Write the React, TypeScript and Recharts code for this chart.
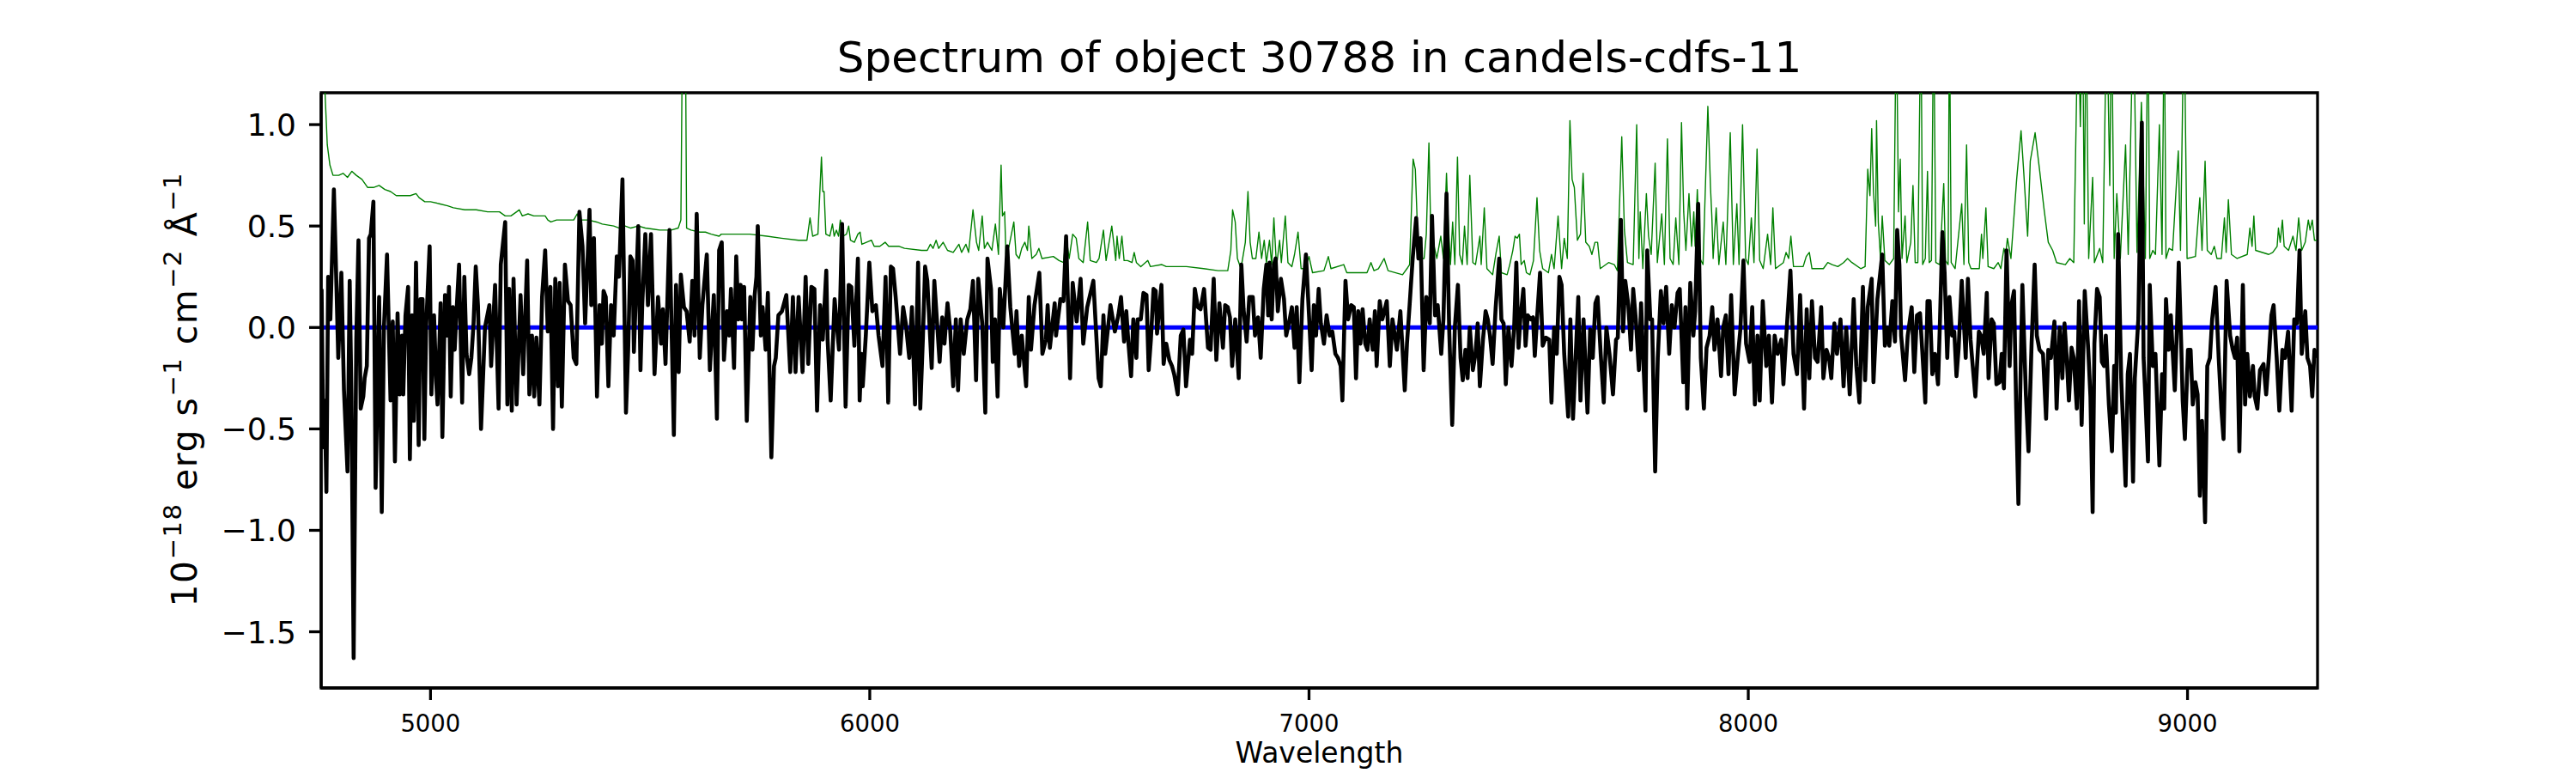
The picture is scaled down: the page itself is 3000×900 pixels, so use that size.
import React from 'react';
import { LineChart, Line, XAxis, YAxis, ReferenceArea } from 'recharts';

const FONT = '"DejaVu Sans", Verdana, sans-serif';

const title = 'Spectrum of object 30788 in candels-cdfs-11';
const xLabel = 'Wavelength';
const xDomain: [number, number] = [4751, 9296];
const yDomain: [number, number] = [-1.777, 1.157];
const xTicks = [5000, 6000, 7000, 8000, 9000];
const yTicks = [-1.5, -1.0, -0.5, 0.0, 0.5, 1.0];

// Observed flux (black), [wavelength, flux]
const black4750 = [[4752,0.19],[4756,-0.59],[4759,-0.36],[4763,-0.81],[4767,0.25],[4772,0.04],[4780,0.68],[4784,0.36],[4790,-0.15],[4797,0.27],[4803,-0.31],[4811,-0.71],[4816,0.23],[4820,-0.34],[4825,-1.63],[4831,-0.06],[4836,0.43],[4841,-0.40],[4847,-0.34],[4850,-0.25],[4855,-0.19],[4860,0.44],[4864,0.46],[4870,0.62],[4875,-0.79],[4883,0.15],[4889,-0.91],[4894,0.00],[4901,0.36],[4909,-0.36],[4914,0.03],[4919,-0.66],[4925,0.07],[4930,-0.33],[4935,-0.04],[4938,-0.33],[4943,0.06],[4949,0.20],[4953,-0.65],[4958,0.06],[4962,-0.46],[4967,0.32],[4973,-0.58],[4977,0.14],[4982,0.14],[4986,-0.55],[4990,0.00],[4998,0.40],[5002,-0.33],[5008,0.06],[5013,-0.27],[5016,-0.38],[5023,0.12],[5027,-0.54],[5033,0.16],[5038,-0.04],[5042,0.20],[5046,-0.34],[5051,0.10],[5055,-0.11],[5060,0.11],[5065,0.31],[5072,-0.37],[5077,0.25],[5082,-0.13],[5088,-0.23],[5093,-0.15],[5098,0.02],[5103,0.30],[5108,0.11],[5115,-0.50],[5124,0.00],[5134,0.11],[5138,-0.19],[5147,0.21],[5155,-0.40],[5160,0.31],[5170,0.52],[5175,-0.38],[5179,0.19],[5185,-0.41],[5189,0.24],[5196,-0.38],[5205,0.16],[5211,-0.23],[5220,0.33],[5225,-0.33],[5231,-0.04],[5236,-0.34],[5241,-0.05],[5248,-0.38],[5254,0.15],[5261,0.38],[5267,-0.02],[5273,0.20],[5279,-0.50],[5284,0.24],[5290,-0.29],[5294,0.22],[5299,-0.39],[5306,0.31],[5313,0.13],[5319,0.11],[5326,-0.15],[5332,-0.18],[5339,0.57],[5346,0.40],[5352,0.02],[5362,0.58],[5366,0.11],[5372,0.44],[5379,-0.34],[5385,0.11],[5390,-0.08],[5394,0.18],[5399,0.15],[5405,-0.29],[5411,0.11],[5417,-0.04],[5424,0.35],[5429,0.25],[5437,0.73],[5445,-0.42],[5450,-0.11],[5455,0.35],[5460,0.33],[5463,-0.12],[5473,0.50],[5478,-0.21],[5482,0.11],[5489,0.46],[5495,0.11],[5502,0.46],[5510,-0.23],[5518,0.15],[5525,-0.08],[5529,0.09],[5535,-0.18],[5544,0.48],[5554,-0.53],[5559,0.21],[5565,-0.22],[5570,0.26],[5577,0.10],[5583,0.08],[5590,-0.07],[5596,0.23],[5601,-0.04],[5606,0.56],[5613,-0.15],[5619,0.11],[5629,0.36],[5636,-0.21],[5645,0.16],[5652,-0.45],[5657,0.38]];
const black5660 = [[5663,0.42],[5668,-0.16],[5675,0.08],[5680,-0.04],[5684,0.19],[5691,-0.20],[5696,0.35],[5701,0.04],[5706,0.21],[5709,0.04],[5714,0.20],[5720,-0.46],[5728,0.15],[5733,-0.11],[5738,0.16],[5742,0.25],[5745,0.50],[5752,-0.04],[5756,0.10],[5763,-0.11],[5768,0.17],[5776,-0.64],[5782,-0.19],[5786,-0.15],[5792,0.06],[5800,0.08],[5810,0.16],[5819,-0.22],[5825,0.15],[5831,-0.22],[5838,0.15],[5847,-0.22],[5854,0.25],[5860,-0.18],[5867,0.20],[5874,0.19],[5880,-0.41],[5887,0.11],[5893,-0.06],[5901,0.28],[5904,-0.06],[5911,-0.36],[5920,0.14],[5930,-0.11],[5937,0.51],[5945,-0.39],[5952,0.21],[5958,0.20],[5965,-0.09],[5973,0.34],[5977,-0.36],[5981,-0.13],[5984,-0.29],[5991,-0.04],[5999,0.32],[6006,0.08],[6014,0.11],[6020,-0.04],[6029,-0.19],[6036,0.25],[6042,-0.37],[6048,0.30],[6053,0.29],[6059,0.15],[6069,-0.13],[6076,0.10],[6082,0.02],[6090,-0.15],[6096,0.10],[6103,-0.38],[6110,0.32],[6115,-0.40],[6121,-0.05],[6126,0.30],[6131,0.23],[6141,-0.20],[6147,0.23],[6159,-0.17],[6165,0.05],[6170,-0.08],[6177,0.12],[6183,-0.01],[6190,-0.29],[6196,0.04],[6201,-0.31],[6207,0.04],[6214,-0.13],[6222,0.04],[6229,0.09],[6235,0.23],[6242,-0.26],[6247,0.24],[6256,0.02],[6263,-0.42],[6268,0.34],[6276,0.19],[6280,-0.17],[6285,0.04],[6291,-0.34],[6296,0.19],[6304,0.00],[6313,0.40],[6320,0.10],[6330,-0.13],[6334,0.08],[6340,-0.19],[6346,-0.04],[6356,-0.29],[6362,0.15],[6367,-0.11],[6375,0.11],[6386,0.27],[6393,-0.13],[6401,-0.06],[6405,0.11],[6410,-0.10],[6421,0.12],[6424,-0.04],[6434,0.14],[6441,0.13],[6447,0.45],[6456,-0.25],[6462,0.22],[6471,0.03],[6480,0.24],[6486,-0.08],[6495,0.10],[6509,0.23],[6521,-0.25],[6526,-0.29],[6532,0.06],[6536,-0.13],[6548,0.11],[6558,-0.02],[6566,0.06]];
const black6570 = [[6572,0.15],[6579,-0.07],[6584,0.08],[6589,-0.08],[6595,-0.24],[6600,0.04],[6607,-0.15],[6610,0.04],[6617,0.04],[6623,0.17],[6630,0.16],[6635,-0.21],[6640,-0.06],[6646,0.19],[6651,0.18],[6654,-0.03],[6664,0.21],[6669,-0.18],[6675,-0.08],[6682,-0.16],[6688,-0.19],[6693,-0.23],[6701,-0.33],[6708,-0.04],[6714,-0.01],[6720,-0.29],[6729,-0.06],[6734,-0.13],[6740,0.19],[6747,0.10],[6753,0.09],[6761,0.19],[6770,-0.10],[6776,-0.11],[6783,0.24],[6789,-0.16],[6796,0.12],[6804,-0.10],[6809,0.11],[6815,0.10],[6820,0.05],[6825,-0.19],[6832,0.04],[6840,-0.25],[6846,0.31],[6851,0.09],[6858,-0.07],[6864,0.15],[6872,0.15],[6877,-0.04],[6884,0.05],[6890,-0.15],[6897,0.19],[6903,0.31],[6907,0.06],[6910,0.32],[6915,0.04],[6920,0.31],[6924,0.34],[6929,0.08],[6936,0.24],[6943,0.14],[6948,-0.04],[6956,0.04],[6961,0.10],[6967,-0.10],[6972,0.10],[6978,-0.27],[6985,0.14],[6993,0.36],[7000,0.06],[7006,-0.21],[7011,0.11],[7016,-0.04],[7022,0.19],[7027,0.02],[7034,-0.08],[7040,0.06],[7047,-0.04],[7053,-0.02],[7060,-0.13],[7066,-0.15],[7072,-0.19],[7076,-0.36],[7083,0.23],[7089,0.04],[7096,0.11],[7102,0.10],[7107,-0.25],[7112,0.08],[7117,-0.08],[7122,0.09],[7128,-0.08],[7133,-0.11],[7138,0.04],[7145,-0.11],[7150,0.08],[7154,-0.19],[7161,0.13],[7167,0.04],[7177,0.13],[7184,-0.19],[7190,0.04],[7200,-0.11],[7208,0.08],[7218,-0.31],[7223,-0.08],[7229,0.11],[7236,0.34],[7244,0.54],[7249,0.34],[7254,0.44],[7261,-0.21],[7267,0.15],[7275,0.02],[7280,0.55],[7287,0.06],[7293,0.11],[7301,-0.13],[7306,0.04],[7313,0.66],[7319,0.00],[7326,-0.48],[7332,0.00],[7339,0.21],[7345,-0.15],[7350,-0.26],[7356,-0.11],[7361,-0.25],[7366,0.00],[7373,-0.21],[7379,-0.13],[7384,0.02],[7389,-0.29],[7396,-0.06],[7402,0.08],[7407,0.04],[7412,-0.04],[7418,-0.18],[7425,0.10],[7433,0.34],[7438,0.04],[7443,0.02],[7448,-0.28],[7454,0.00],[7461,-0.19],[7467,0.00]];
const black7470 = [[7472,0.32],[7477,-0.10],[7481,0.04],[7488,0.19],[7493,-0.09],[7498,0.06],[7505,0.04],[7510,0.05],[7514,-0.14],[7519,0.04],[7526,0.27],[7532,-0.09],[7539,-0.05],[7547,-0.06],[7552,-0.37],[7558,0.00],[7564,-0.13],[7570,0.25],[7575,0.21],[7581,-0.13],[7590,-0.44],[7595,0.04],[7601,-0.45],[7607,-0.15],[7613,0.15],[7618,-0.36],[7625,0.04],[7629,-0.17],[7634,-0.42],[7640,-0.01],[7646,-0.15],[7652,0.12],[7657,0.15],[7664,-0.13],[7671,-0.37],[7677,0.00],[7684,-0.13],[7692,-0.33],[7699,-0.06],[7703,-0.05],[7710,0.53],[7715,-0.02],[7720,0.23],[7727,0.11],[7733,-0.11],[7738,0.19],[7744,0.04],[7751,-0.21],[7756,0.12],[7760,-0.11],[7766,-0.41],[7770,0.38],[7777,0.04],[7781,0.04],[7788,-0.71],[7794,-0.15],[7801,0.18],[7807,0.02],[7813,0.20],[7820,-0.13],[7826,0.11],[7832,0.00],[7839,0.17],[7844,0.19],[7852,-0.27],[7857,0.10],[7861,-0.40],[7868,0.22],[7875,-0.04],[7879,0.08],[7886,0.61],[7892,-0.15],[7899,-0.40],[7905,-0.10],[7912,-0.04],[7918,0.10],[7923,-0.11],[7930,0.04],[7938,-0.24],[7943,0.00],[7949,0.06],[7955,-0.23],[7961,0.16],[7969,-0.33],[7976,-0.15],[7982,-0.01],[7989,0.33],[7995,-0.08],[8003,-0.17],[8009,0.10],[8015,-0.38],[8021,-0.04],[8026,-0.36],[8033,0.13],[8041,-0.19],[8047,-0.04],[8054,-0.37],[8060,-0.04],[8067,-0.13],[8075,-0.06],[8080,-0.28],[8086,-0.06],[8096,0.28],[8103,-0.13],[8111,-0.23],[8118,0.16],[8127,-0.40],[8133,0.09],[8139,-0.25],[8145,0.13],[8152,-0.15],[8158,-0.17],[8166,0.10],[8171,-0.25],[8178,-0.11],[8184,-0.15],[8189,-0.25],[8196,0.02],[8202,-0.13],[8210,0.04],[8217,-0.29],[8223,0.00],[8231,-0.33],[8240,0.14],[8246,-0.19],[8253,-0.37],[8261,0.20],[8266,-0.26],[8272,0.10],[8281,0.24],[8285,-0.27],[8294,0.14],[8305,0.36],[8311,-0.09],[8316,0.00],[8321,-0.09],[8328,0.13],[8334,-0.07],[8339,0.48],[8344,0.31],[8348,-0.04],[8357,-0.26],[8363,-0.04],[8372,0.10],[8378,-0.22]];
const black8380 = [[8384,0.06],[8391,0.07],[8396,-0.11],[8403,-0.37],[8408,0.13],[8413,0.13],[8419,-0.23],[8425,-0.13],[8432,-0.28],[8436,0.00],[8442,0.47],[8447,0.27],[8453,-0.15],[8458,0.15],[8464,-0.04],[8469,-0.02],[8474,-0.24],[8479,-0.10],[8486,0.23],[8491,0.02],[8495,-0.15],[8500,0.24],[8506,-0.06],[8511,-0.19],[8517,-0.34],[8525,-0.02],[8530,-0.04],[8536,-0.13],[8543,0.17],[8547,-0.25],[8554,0.04],[8559,0.02],[8565,-0.28],[8572,-0.27],[8577,-0.13],[8582,-0.30],[8588,0.38],[8595,-0.19],[8599,0.11],[8605,0.18],[8610,-0.40],[8615,-0.87],[8619,-0.34],[8624,0.21],[8632,-0.33],[8638,-0.61],[8645,-0.08],[8652,0.31],[8657,-0.04],[8663,-0.11],[8671,-0.13],[8678,-0.45],[8683,-0.11],[8689,-0.15],[8697,0.03],[8702,-0.40],[8709,0.00],[8715,-0.25],[8720,0.02],[8725,-0.15],[8730,-0.36],[8736,-0.10],[8741,-0.15],[8748,-0.40],[8753,0.13],[8759,-0.48],[8766,0.18],[8774,-0.11],[8779,-0.34],[8784,-0.91],[8788,-0.08],[8794,0.19],[8800,0.15],[8805,-0.17],[8810,-0.19],[8814,-0.04],[8821,-0.38],[8828,-0.61],[8833,-0.19],[8837,-0.42],[8842,0.46],[8849,-0.25],[8859,-0.78],[8864,-0.23],[8869,-0.13],[8876,-0.76],[8880,-0.25],[8888,0.04],[8896,1.01],[8900,-0.15],[8904,-0.34],[8910,-0.66],[8914,0.21],[8921,-0.19],[8927,-0.13],[8936,-0.68],[8942,-0.23],[8947,-0.40],[8951,0.14],[8957,-0.11],[8962,0.06],[8966,-0.11],[8971,-0.31],[8976,0.00],[8980,0.32],[8986,-0.11],[8989,-0.36],[8994,-0.55],[9001,-0.11],[9007,-0.11],[9012,-0.38],[9018,-0.27],[9023,-0.33],[9028,-0.83],[9033,-0.46],[9040,-0.96],[9045,-0.19],[9051,-0.15],[9056,0.04],[9064,0.20],[9071,-0.15],[9077,-0.40],[9082,-0.55],[9089,0.23],[9097,-0.04],[9103,-0.11],[9108,-0.15],[9113,-0.05],[9118,-0.61],[9126,0.21],[9131,-0.38],[9136,-0.13],[9142,-0.34],[9149,-0.19],[9153,-0.34],[9159,-0.40],[9165,-0.21],[9173,-0.18],[9179,-0.33],[9185,-0.15],[9191,0.06],[9196,0.11],[9203,-0.15],[9209,-0.41],[9216,-0.11],[9222,-0.15],[9229,-0.02],[9237,-0.41],[9243,0.04],[9249,0.02],[9255,0.38],[9260,-0.13],[9268,0.08],[9273,-0.15],[9279,-0.19],[9284,-0.34],[9289,-0.11],[9294,-0.15]];

// Noise / sky spectrum (green), [wavelength, flux]
const green4750 = [[4752,1.6],[4759,1.2],[4765,0.90],[4771,0.80],[4778,0.75],[4791,0.75],[4801,0.76],[4811,0.74],[4821,0.77],[4831,0.75],[4844,0.73],[4857,0.69],[4870,0.69],[4883,0.70],[4896,0.68],[4909,0.67],[4922,0.65],[4935,0.65],[4954,0.65],[4967,0.66],[4974,0.64],[4987,0.62],[5000,0.62],[5020,0.61],[5039,0.60],[5052,0.59],[5078,0.58],[5104,0.58],[5130,0.57],[5157,0.57],[5170,0.55],[5183,0.55],[5196,0.57],[5202,0.58],[5209,0.55],[5222,0.56],[5235,0.55],[5248,0.55],[5261,0.55],[5267,0.53],[5274,0.52],[5287,0.53],[5306,0.53],[5326,0.53],[5334,0.56],[5339,0.53],[5359,0.53],[5378,0.52],[5391,0.51],[5417,0.50],[5430,0.49],[5443,0.50],[5456,0.49],[5473,0.50],[5489,0.49],[5522,0.48],[5548,0.48],[5564,0.49],[5570,0.53],[5574,1.6],[5580,1.6],[5583,0.49],[5593,0.48],[5613,0.47],[5626,0.47],[5639,0.46],[5657,0.45]];
const green5660 = [[5662,0.46],[5688,0.46],[5727,0.46],[5766,0.45],[5799,0.44],[5838,0.43],[5857,0.43],[5864,0.54],[5870,0.45],[5882,0.46],[5890,0.84],[5893,0.67],[5896,0.67],[5900,0.46],[5909,0.45],[5915,0.51],[5919,0.45],[5924,0.48],[5929,0.45],[5933,0.53],[5939,0.45],[5947,0.46],[5952,0.50],[5956,0.43],[5965,0.42],[5973,0.46],[5978,0.47],[5982,0.41],[6004,0.43],[6010,0.40],[6023,0.40],[6035,0.42],[6043,0.40],[6067,0.40],[6079,0.39],[6118,0.38],[6131,0.38],[6138,0.41],[6144,0.39],[6151,0.43],[6157,0.39],[6167,0.42],[6177,0.38],[6190,0.37],[6203,0.41],[6209,0.37],[6219,0.41],[6225,0.37],[6235,0.58],[6243,0.42],[6248,0.38],[6256,0.55],[6261,0.39],[6268,0.42],[6273,0.40],[6278,0.38],[6286,0.51],[6293,0.36],[6299,0.80],[6302,0.55],[6307,0.57],[6310,0.36],[6317,0.40],[6328,0.52],[6333,0.36],[6340,0.34],[6346,0.39],[6353,0.42],[6359,0.38],[6362,0.50],[6369,0.34],[6379,0.36],[6385,0.39],[6392,0.34],[6418,0.35],[6431,0.33],[6441,0.32],[6447,0.45],[6454,0.34],[6462,0.46],[6470,0.44],[6476,0.34],[6486,0.32],[6496,0.52],[6502,0.33],[6516,0.32],[6522,0.34],[6532,0.48],[6538,0.33],[6551,0.50],[6560,0.33]];
const green6560 = [[6563,0.45],[6568,0.34],[6574,0.45],[6579,0.33],[6587,0.33],[6597,0.32],[6602,0.37],[6607,0.32],[6617,0.30],[6633,0.33],[6639,0.30],[6665,0.31],[6675,0.30],[6701,0.30],[6721,0.30],[6760,0.29],[6793,0.28],[6815,0.28],[6822,0.38],[6826,0.58],[6832,0.52],[6837,0.34],[6845,0.29],[6855,0.42],[6861,0.67],[6866,0.42],[6871,0.34],[6879,0.34],[6886,0.47],[6892,0.34],[6898,0.43],[6903,0.32],[6910,0.43],[6915,0.31],[6920,0.54],[6926,0.30],[6933,0.43],[6937,0.32],[6946,0.55],[6952,0.32],[6961,0.30],[6967,0.36],[6975,0.47],[6982,0.29],[6991,0.29],[7000,0.35],[7008,0.27],[7034,0.28],[7044,0.35],[7050,0.29],[7079,0.31],[7086,0.27],[7118,0.27],[7132,0.27],[7141,0.32],[7148,0.28],[7158,0.29],[7171,0.34],[7180,0.28],[7213,0.26],[7223,0.29],[7229,0.31],[7237,0.83],[7242,0.78],[7248,0.42],[7254,0.34],[7262,0.34],[7267,0.46],[7273,0.91],[7278,0.38],[7285,0.40],[7291,0.34],[7300,0.45],[7306,0.34],[7313,0.76],[7317,0.52],[7322,0.31],[7327,0.52],[7332,0.31],[7338,0.84],[7343,0.36],[7349,0.31],[7354,0.50],[7360,0.31],[7366,0.75],[7373,0.32],[7379,0.31],[7389,0.45],[7392,0.31],[7399,0.59],[7405,0.29],[7418,0.26],[7426,0.37],[7433,0.45],[7438,0.27],[7451,0.26],[7457,0.31],[7464,0.38],[7469,0.45]];
const green7470 = [[7474,0.44],[7479,0.46],[7483,0.31],[7490,0.33],[7495,0.27],[7503,0.26],[7511,0.33],[7519,0.64],[7525,0.38],[7532,0.29],[7545,0.27],[7552,0.36],[7558,0.29],[7567,0.55],[7575,0.29],[7581,0.44],[7588,0.34],[7594,1.02],[7599,0.73],[7604,0.69],[7611,0.43],[7618,0.46],[7624,0.76],[7630,0.42],[7638,0.40],[7644,0.36],[7651,0.42],[7657,0.42],[7663,0.29],[7682,0.32],[7695,0.31],[7702,0.28],[7712,0.94],[7718,0.48],[7725,0.32],[7738,0.31],[7746,1.00],[7751,0.34],[7754,0.57],[7760,0.29],[7768,0.66],[7773,0.45],[7779,0.36],[7788,0.81],[7793,0.32],[7803,0.56],[7809,0.31],[7816,0.93],[7822,0.34],[7829,0.31],[7835,0.54],[7842,0.31],[7848,1.01],[7853,0.57],[7858,0.38],[7865,0.66],[7871,0.40],[7876,0.57],[7879,0.40],[7884,0.68],[7890,0.34],[7897,0.31],[7908,1.09],[7914,0.69],[7917,0.55],[7920,0.34],[7927,0.59],[7933,0.31],[7943,0.52],[7949,0.31],[7959,0.96],[7966,0.31],[7974,0.61],[7979,0.31],[7987,1.00],[7994,0.34],[8000,0.31],[8007,0.54],[8013,0.32],[8020,0.88],[8026,0.33],[8034,0.29],[8044,0.46],[8051,0.31],[8056,0.59],[8062,0.29],[8080,0.32],[8086,0.37],[8092,0.34],[8097,0.45],[8103,0.30],[8125,0.30],[8132,0.35],[8139,0.37],[8145,0.29],[8171,0.29],[8181,0.32],[8191,0.31],[8204,0.30],[8217,0.32],[8226,0.34],[8236,0.32],[8256,0.29],[8266,0.30],[8272,0.78],[8277,0.65],[8281,0.98],[8285,0.67],[8290,0.50],[8292,1.02],[8296,0.52],[8301,0.34],[8305,0.55],[8311,0.33],[8321,0.31],[8331,0.34],[8337,1.6],[8342,0.57],[8346,0.83],[8350,0.34],[8357,0.55],[8361,0.32],[8370,0.42],[8375,0.70]];
const green8380 = [[8380,0.32],[8386,0.32],[8393,1.6],[8397,0.31],[8403,0.34],[8408,0.77],[8412,0.32],[8417,0.33],[8422,1.6],[8427,0.32],[8436,0.31],[8445,0.71],[8449,0.33],[8455,0.31],[8458,1.6],[8462,0.32],[8471,0.29],[8486,0.61],[8491,0.31],[8497,0.90],[8502,0.32],[8507,0.29],[8526,0.29],[8531,0.46],[8534,0.34],[8541,0.59],[8546,0.30],[8559,0.29],[8569,0.32],[8575,0.29],[8582,0.39],[8586,0.36],[8590,0.44],[8598,0.34],[8611,0.73],[8621,0.97],[8627,0.77],[8636,0.45],[8642,0.82],[8653,0.96],[8663,0.78],[8673,0.59],[8683,0.42],[8693,0.38],[8702,0.32],[8722,0.31],[8732,0.34],[8741,0.32],[8751,1.6],[8756,0.99],[8761,1.6],[8765,0.51],[8769,1.6],[8775,0.34],[8784,0.74],[8788,0.32],[8800,0.39],[8807,0.32],[8816,1.6],[8823,0.70],[8827,1.6],[8833,0.34],[8839,0.66],[8847,0.34],[8859,0.90],[8865,0.36],[8877,1.6],[8885,0.37],[8895,1.11],[8904,0.34],[8910,1.6],[8914,0.34],[8921,0.38],[8927,0.36],[8936,1.00],[8942,0.36],[8947,1.6],[8951,0.34],[8958,0.39],[8966,0.38],[8979,0.87],[8984,0.38],[8992,1.6],[8999,0.34],[9018,0.35],[9028,0.64],[9033,0.38],[9040,0.82],[9045,0.38],[9054,0.36],[9061,0.40],[9067,0.34],[9077,0.34],[9084,0.54],[9088,0.37],[9093,0.63],[9100,0.36],[9113,0.34],[9136,0.36],[9142,0.49],[9147,0.40],[9151,0.55],[9155,0.38],[9185,0.36],[9194,0.37],[9204,0.40],[9207,0.49],[9211,0.42],[9216,0.53],[9220,0.40],[9230,0.38],[9240,0.45],[9247,0.38],[9253,0.54],[9260,0.38],[9268,0.42],[9275,0.53],[9279,0.48],[9284,0.53],[9289,0.43],[9294,0.43]];

// Zero level (blue)
const zeroLevel = [[4751, 0], [9296, 0]];

const toRows = (segs: number[][][]) => segs.flat().map(([w, f]) => ({ w, f }));
const blackData = toRows([black4750, black5660, black6570, black7470, black8380]);
const greenData = toRows([green4750, green5660, green6560, green7470, green8380]);
const zeroData = toRows([zeroLevel]);

const fmt = (v: number) => v.toFixed(1).replace('-', '\u2212');

const XTick = (props: any) => {
  const { x, y, payload } = props;
  return (
    <text x={x} y={y + 37} textAnchor="middle" fontFamily={FONT} fontSize={27.5} fill="#000">
      {String(payload.value)}
    </text>
  );
};

const YTick = (props: any) => {
  const { x, y, payload } = props;
  return (
    <text x={x} y={y + 13} textAnchor="end" fontFamily={FONT} fontSize={36} fill="#000">
      {fmt(payload.value)}
    </text>
  );
};

const spine = { stroke: '#000', strokeWidth: 3.3 };

export default function App() {
  const W = 3000;
  const H = 900;
  const plotCx = (374 + 2699) / 2;
  const ylx = 229;
  const yly = 454;
  return (
    <div style={{ position: 'absolute', left: 0, top: 0, width: W, height: H, background: '#fff' }}>
      <LineChart width={W} height={H} margin={{ top: 108, right: 301, bottom: 0, left: 0 }}>
        <XAxis
          dataKey="w"
          type="number"
          domain={xDomain}
          allowDataOverflow
          ticks={xTicks}
          interval={0}
          height={99}
          tickSize={14}
          tickMargin={0}
          axisLine={spine}
          tickLine={spine}
          tick={<XTick />}
        />
        <YAxis
          type="number"
          domain={yDomain}
          allowDataOverflow
          ticks={yTicks}
          interval={0}
          width={374}
          tickSize={14}
          tickMargin={15}
          axisLine={spine}
          tickLine={spine}
          tick={<YTick />}
        />
        <Line
          data={greenData}
          dataKey="f"
          type="linear"
          stroke="#008000"
          strokeWidth={1.4}
          dot={false}
          activeDot={false}
          isAnimationActive={false}
          strokeLinejoin="round"
        />
        <Line
          data={zeroData}
          dataKey="f"
          type="linear"
          stroke="#0000ff"
          strokeWidth={5}
          dot={false}
          activeDot={false}
          isAnimationActive={false}
        />
        <Line
          data={blackData}
          dataKey="f"
          type="linear"
          stroke="#000000"
          strokeWidth={4.6}
          dot={false}
          activeDot={false}
          isAnimationActive={false}
          strokeLinejoin="round"
        />
        <ReferenceArea
          x1={xDomain[0]}
          x2={xDomain[1]}
          y1={yDomain[0]}
          y2={yDomain[1]}
          fill="none"
          fillOpacity={0}
          stroke="#000"
          strokeWidth={3.3}
          ifOverflow="visible"
        />
      </LineChart>
      <svg
        width={W}
        height={H}
        style={{ position: 'absolute', left: 0, top: 0, pointerEvents: 'none' }}
      >
        <text x={plotCx} y={84} textAnchor="middle" fontFamily={FONT} fontSize={50} fill="#000">
          {title}
        </text>
        <text x={plotCx} y={888} textAnchor="middle" fontFamily={FONT} fontSize={33} fill="#000">
          {xLabel}
        </text>
        <text
          x={ylx}
          y={yly}
          transform={`rotate(-90 ${ylx} ${yly})`}
          textAnchor="middle"
          fontFamily={FONT}
          fontSize={41}
          fill="#000"
          textLength={505}
          lengthAdjust="spacing"
        >
          <tspan>10</tspan>
          <tspan fontSize={29} dy={-18}>{'\u221218'}</tspan>
          <tspan dy={18}>{' erg s'}</tspan>
          <tspan fontSize={29} dy={-18}>{'\u22121'}</tspan>
          <tspan dy={18}>{' cm'}</tspan>
          <tspan fontSize={29} dy={-18}>{'\u22122'}</tspan>
          <tspan dy={18}>{' \u00c5'}</tspan>
          <tspan fontSize={29} dy={-18}>{'\u22121'}</tspan>
        </text>
      </svg>
    </div>
  );
}
